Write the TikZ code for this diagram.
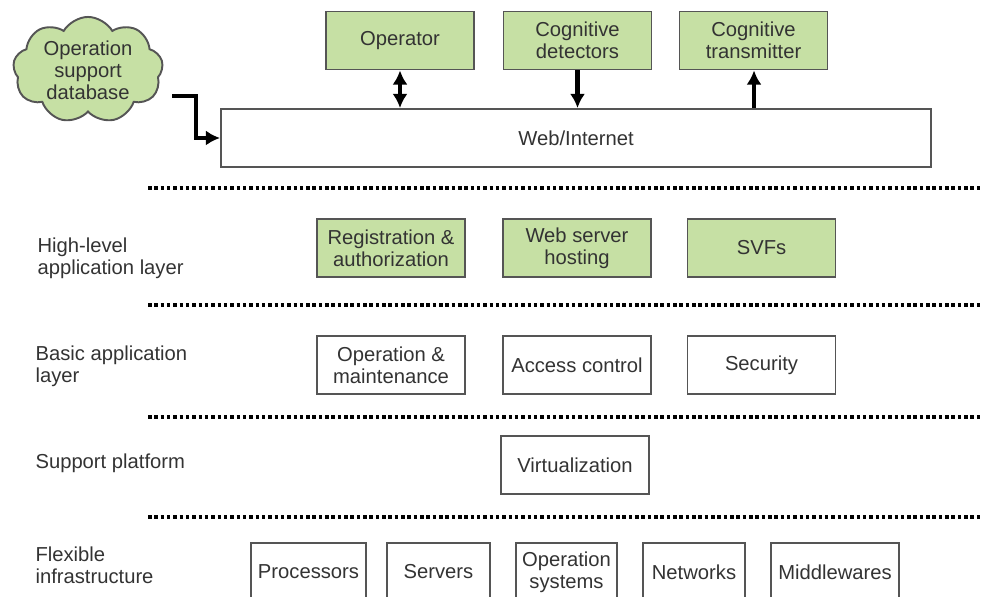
\documentclass[tikz,border=0pt]{standalone}
\usepackage{fontspec}
\setmainfont{Liberation Sans}
\usetikzlibrary{shapes.symbols,arrows.meta}
\definecolor{boxgreen}{HTML}{C6E0A4}
\definecolor{boxline}{HTML}{555555}
\definecolor{txt}{HTML}{333333}
\begin{document}
\begin{tikzpicture}[>={Latex[length=8pt,width=8.5pt]},thick,
  font=\fontsize{11.5}{12.5}\selectfont, text=txt,
  greenbox/.style={draw=boxline,line width=1.1pt,fill=boxgreen,minimum width=2.96cm,minimum height=1.16cm,align=center,inner sep=1pt},
  whitebox/.style={draw=boxline,line width=1.1pt,fill=white,minimum width=2.96cm,minimum height=1.16cm,align=center,inner sep=1pt},
  layerline/.style={line width=2.2pt,dash pattern=on 2pt off 1.6pt},
  conn/.style={->,line width=2.8pt}]
\useasboundingbox (0,0) rectangle (19.72,11.92);
\clip (0,0) rectangle (19.72,11.92);
% top part
\node[cloud,cloud puffs=9,cloud puff arc=120,aspect=1.45,draw=boxline,line width=1.1pt,fill=boxgreen,minimum width=3cm,minimum height=2.1cm,align=center,inner sep=0pt] (db) at (1.76,10.52) {Operation\\support\\database};
\node[greenbox] (op) at (8.0,11.11) {Operator};
\node[greenbox] (det) at (11.55,11.11) {Cognitive\\detectors};
\node[greenbox] (trans) at (15.07,11.11) {Cognitive\\transmitter};
\node[whitebox,minimum width=14.2cm] (web) at (11.52,9.16) {Web/Internet};
\coordinate (dbout) at (3.44,10.0);
\draw[conn] (dbout) -- (3.92,10.0) |- (web.west);
\draw[conn,<->] (op.south) -- (op.south |- web.north);
\draw[conn] (det.south) -- (det.south |- web.north);
\draw[conn] (web.north -| 15.08,0) -- (15.08,0 |- trans.south);
% layer separators
\foreach \y in {8.16,5.82,3.58,1.58}
  \draw[layerline] (2.96,\y) -- (19.66,\y);
% layer names
\node[right,align=left] (hl) at (0.62,6.76) {High-level\\application layer};
\node[right,align=left] (ba) at (0.58,4.60) {Basic application\\layer};
\node[right,align=left] (sp) at (0.58,2.66) {Support platform};
\node[right,align=left] (fi) at (0.58,0.62) {Flexible\\infrastructure};
% high-level application layer
\node[greenbox] (reg) at (7.82,6.96) {Registration \&\\authorization};
\node[greenbox] (host) at (11.54,6.96) {Web server\\hosting};
\node[greenbox] (svf) at (15.23,6.96) {SVFs};
% basic application layer
\node[whitebox] (om) at (7.82,4.62) {Operation \&\\maintenance};
\node[whitebox] (ac) at (11.54,4.62) {Access control};
\node[whitebox] (sec) at (15.23,4.62) {Security};
% support platform
\node[whitebox] (virt) at (11.5,2.62) {Virtualization};
% flexible infrastructure
\node[whitebox,minimum width=2.3cm] (proc) at (6.17,0.48) {Processors};
\node[whitebox,minimum width=2.06cm] (serv) at (8.77,0.48) {Servers};
\node[whitebox,minimum width=2.02cm] (os) at (11.33,0.48) {Operation\\systems};
\node[whitebox,minimum width=2.04cm] (net) at (13.88,0.48) {Networks};
\node[whitebox,minimum width=2.56cm] (mw) at (16.7,0.48) {Middlewares};
\end{tikzpicture}
\end{document}
